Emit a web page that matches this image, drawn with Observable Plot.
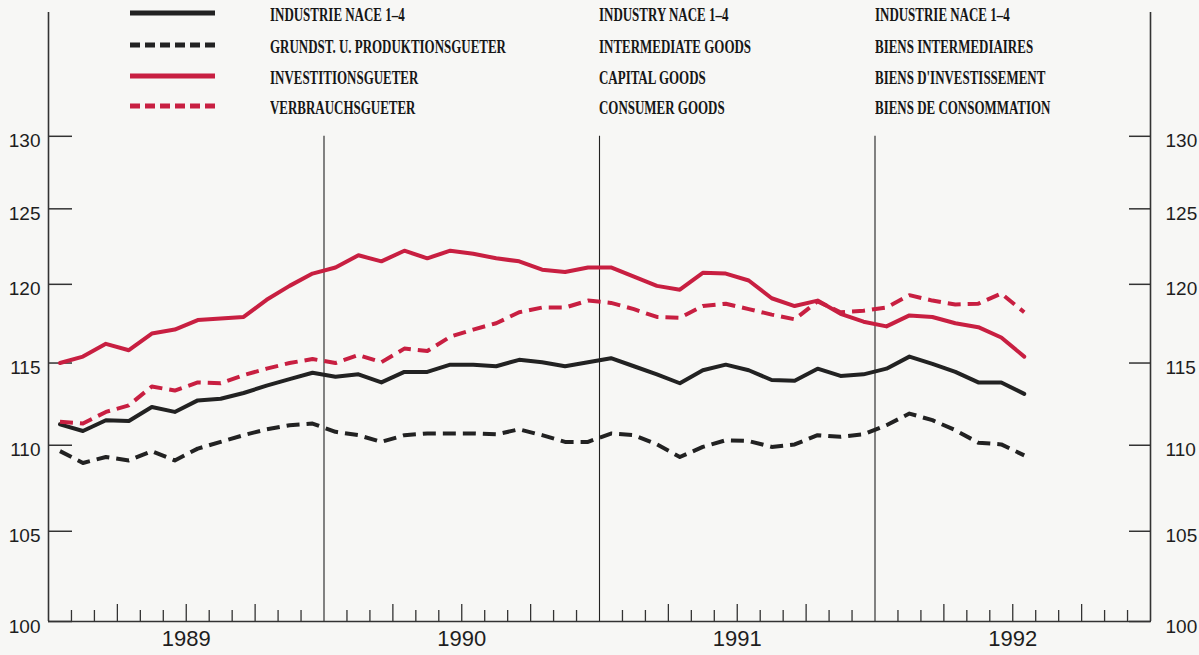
<!DOCTYPE html>
<html><head><meta charset="utf-8">
<script src="https://cdn.jsdelivr.net/npm/d3@7"></script>
<script src="https://cdn.jsdelivr.net/npm/@observablehq/plot@0.6"></script>
<style>
html,body{margin:0;padding:0;background:#f7f7f5;}
#wrap{position:relative;width:1199px;height:655px;overflow:hidden;}
#legend{position:absolute;left:0;top:0;width:1199px;height:130px;}
.lbl{position:absolute;font-family:"Liberation Serif",serif;font-weight:bold;font-size:18px;transform:scaleX(0.72);transform-origin:0 50%;white-space:nowrap;color:#161616;line-height:20px;}
.swatch{position:absolute;}
</style></head><body><div id="wrap"><div id="legend"></div></div>
<script>
// ---- data (monthly indices, Jan 1989 – Jul 1992, log scale) ----
const startYear = 1989;
const industrie = [111.25,110.85,111.5,111.45,112.3,112.0,112.7,112.8,113.15,113.6,114.0,114.4,
  114.15,114.3,113.8,114.45,114.45,114.9,114.9,114.8,115.2,115.05,114.8,115.05,
  115.3,114.8,114.3,113.75,114.55,114.9,114.55,113.95,113.9,114.65,114.2,114.3,
  114.65,115.4,114.95,114.45,113.8,113.8,113.1];
const intermediate = [109.65,108.95,109.3,109.1,109.65,109.1,109.8,110.2,110.6,110.95,111.2,111.3,
  110.8,110.6,110.2,110.6,110.7,110.7,110.7,110.65,110.95,110.6,110.2,110.2,
  110.7,110.6,110.05,109.3,109.9,110.3,110.25,109.9,110.05,110.6,110.5,110.65,
  111.2,111.9,111.5,110.9,110.15,110.05,109.4];
const capital = [115.0,115.4,116.2,115.8,116.85,117.1,117.7,117.8,117.9,119.0,119.9,120.7,
  121.1,121.9,121.5,122.2,121.7,122.2,122.0,121.7,121.5,120.95,120.8,121.1,
  121.1,120.5,119.9,119.65,120.75,120.7,120.25,119.1,118.6,118.95,118.1,117.6,
  117.3,118.0,117.9,117.5,117.25,116.6,115.4];
const consumer = [111.4,111.3,112.0,112.4,113.55,113.3,113.8,113.75,114.25,114.65,115.0,115.25,
  115.0,115.5,115.05,115.9,115.75,116.65,117.1,117.5,118.2,118.5,118.5,118.95,
  118.8,118.4,117.9,117.85,118.6,118.75,118.4,118.05,117.75,118.9,118.2,118.3,
  118.5,119.3,118.95,118.7,118.75,119.4,118.2];
const seriesDE = ["INDUSTRIE NACE 1\u20134","GRUNDST. U. PRODUKTIONSGUETER","INVESTITIONSGUETER","VERBRAUCHSGUETER"];
const seriesEN = ["INDUSTRY NACE 1\u20134","INTERMEDIATE GOODS","CAPITAL GOODS","CONSUMER GOODS"];
const seriesFR = ["INDUSTRIE NACE 1\u20134","BIENS INTERMEDIAIRES","BIENS D'INVESTISSEMENT","BIENS DE CONSOMMATION"];
const yTicks = [100,105,110,115,120,125,130];
const yearLabels = [1989,1990,1991,1992];

// ---- styles ----
const RED = "#c81f41", BLACK = "#222222";
const styles = [
  {stroke: BLACK, dash: null},
  {stroke: BLACK, dash: "13,7"},
  {stroke: RED, dash: null},
  {stroke: RED, dash: "13,7"}
];
const allSeries = [industrie, intermediate, capital, consumer];

const monthX = i => startYear + (i + 0.5) / 12;
const monthTicks = d3.range(1, 48).filter(k => k % 12 !== 0).map(k => startYear + k / 12);
const shortTicks = monthTicks.filter(t => Math.round((t - startYear) * 12) % 3 !== 0);
const longTicks = monthTicks.filter(t => Math.round((t - startYear) * 12) % 3 === 0);
const yearBounds = yearLabels.slice(1);
const frameX = [yearLabels[0], yearLabels[yearLabels.length - 1] + 1];
const yMin = yTicks[0], yMax = yTicks[yTicks.length - 1];

const lineMarks = allSeries.map((s, j) => Plot.line(s.map((v, i) => ({x: monthX(i), y: v})), {
  x: "x", y: "y", stroke: styles[j].stroke, strokeWidth: 4,
  strokeDasharray: styles[j].dash, strokeLinejoin: "round", strokeLinecap: styles[j].dash ? "butt" : "round"
}));

const chart = Plot.plot({
  width: 1199, height: 655,
  marginTop: 12, marginBottom: 34, marginLeft: 48, marginRight: 49,
  style: {background: "transparent", fontFamily: "'Liberation Sans', Arial, sans-serif", color: "#1e1e1e"},
  x: {domain: frameX, axis: null},
  // frame extends above 130 up to the legend area
  y: {type: "log", domain: [yMin, 139], axis: null},
  marks: [
    Plot.ruleX(yearBounds, {y1: yMin, y2: yMax, stroke: "#222", strokeWidth: 1.1}),
    Plot.ruleX(frameX, {stroke: "#333", strokeWidth: 1.6}),
    Plot.ruleY([yMin], {stroke: "#333", strokeWidth: 1.6}),
    Plot.axisX({anchor: "bottom", label: null, ticks: shortTicks, tickSize: -11, tickFormat: () => "", stroke: "#333", strokeWidth: 1.3}),
    Plot.axisX({anchor: "bottom", label: null, ticks: longTicks, tickSize: -17, tickFormat: () => "", stroke: "#333", strokeWidth: 1.3}),
    Plot.axisX({anchor: "bottom", label: null, ticks: yearLabels.map(y => y + 0.5), tickSize: 0, tickPadding: 9, tickFormat: d => String(Math.floor(d)), fontSize: 22}),
    Plot.axisY({anchor: "left", label: null, ticks: yTicks, tickSize: -24, tickFormat: () => "", stroke: "#333", strokeWidth: 1.5}),
    Plot.axisY({anchor: "left", label: null, ticks: yTicks, tickSize: 0, tickPadding: 8, dy: 5, tickFormat: d => String(d), fontSize: 19}),
    Plot.axisY({anchor: "right", label: null, ticks: yTicks, tickSize: -22, tickFormat: () => "", stroke: "#333", strokeWidth: 1.5}),
    Plot.axisY({anchor: "right", label: null, ticks: yTicks, tickSize: 0, tickPadding: 15, dy: 5, tickFormat: d => String(d), fontSize: 19}),
    ...lineMarks
  ]
});
document.getElementById("wrap").appendChild(chart);

// ---- legend ----
const legend = document.getElementById("legend");
const rowTop = [3, 35, 66, 96];
const cols = [270, 599, 875];
[seriesDE, seriesEN, seriesFR].forEach((names, c) => {
  names.forEach((name, r) => {
    const d = document.createElement("div");
    d.className = "lbl";
    d.style.left = cols[c] + "px";
    d.style.top = (rowTop[r] + 2) + "px";
    d.textContent = name;
    legend.appendChild(d);
  });
});
seriesDE.forEach((name, r) => {
  const ns = "http://www.w3.org/2000/svg";
  const svg = document.createElementNS(ns, "svg");
  svg.setAttribute("width", 90); svg.setAttribute("height", 20);
  svg.setAttribute("class", "swatch");
  svg.style.left = "128px"; svg.style.top = rowTop[r] + "px";
  const ln = document.createElementNS(ns, "line");
  ln.setAttribute("x1", 2); ln.setAttribute("x2", 87); ln.setAttribute("y1", 10); ln.setAttribute("y2", 10);
  ln.setAttribute("stroke", styles[r].stroke); ln.setAttribute("stroke-width", 5);
  if (styles[r].dash) ln.setAttribute("stroke-dasharray", "10,5");
  svg.appendChild(ln);
  legend.appendChild(svg);
});
</script>
</body></html>
